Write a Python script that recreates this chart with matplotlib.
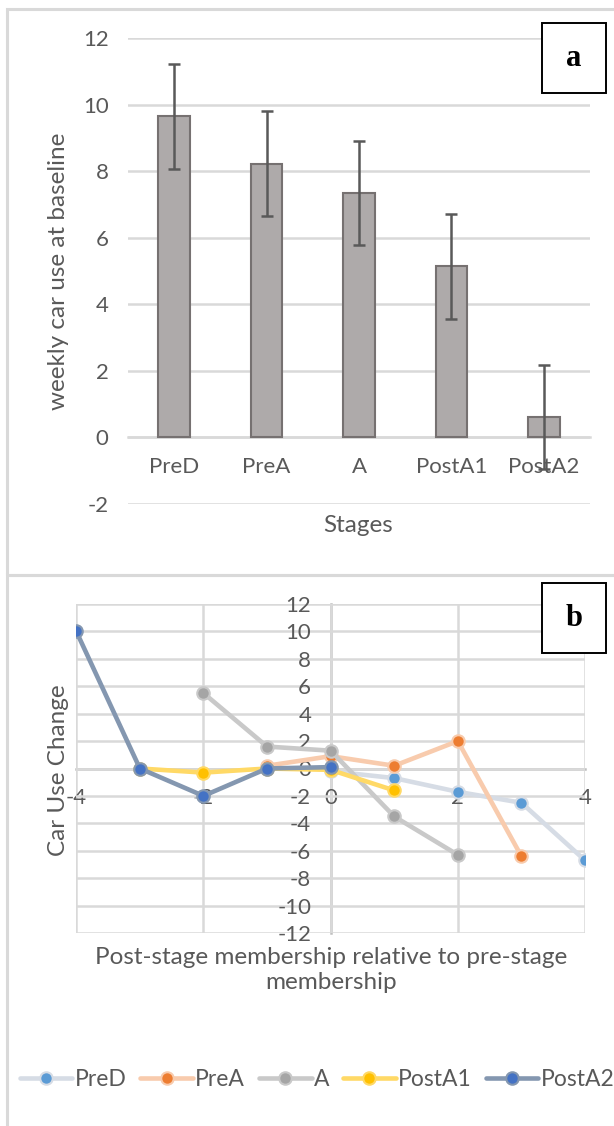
import numpy as np
import matplotlib.pyplot as plt
from matplotlib.lines import Line2D
from matplotlib.patches import Rectangle

plt.rcParams['font.family'] = ['Lato', 'DejaVu Sans']
plt.rcParams['axes.unicode_minus'] = False

# dados do painel a
stages = ['PreD', 'PreA', 'A', 'PostA1', 'PostA2']
car_use = [9.66, 8.23, 7.35, 5.15, 0.61]
car_err = [1.58, 1.58, 1.57, 1.58, 1.57]

# dados do painel b
rel_x = [-4, -3, -2, -1, 0, 1, 2, 3, 4]
change_pred = [np.nan, np.nan, np.nan, np.nan, -0.2, -0.7, -1.7, -2.5, -6.7]
change_prea = [np.nan, np.nan, np.nan, 0.2, 0.9, 0.2, 2.0, -6.4, np.nan]
change_a = [np.nan, np.nan, 5.5, 1.6, 1.3, -3.5, -6.3, np.nan, np.nan]
change_posta1 = [np.nan, 0.0, -0.3, 0.0, -0.1, -1.6, np.nan, np.nan, np.nan]
change_posta2 = [10.0, 0.0, -2.0, 0.0, 0.1, np.nan, np.nan, np.nan, np.nan]

W, H = 614, 1126
fig = plt.figure(figsize=(W / 100, H / 100), dpi=100)
txt = '#595959'
grid = '#D9D9D9'
tick_fs = 16
title_fs = 17.5

# molduras dos painéis
for y0, y1 in [(9, 575), (575, H + 5)]:
    fig.add_artist(Rectangle((7 / W, 1 - y1 / H), 1, (y1 - y0) / H,
                             transform=fig.transFigure, fill=False,
                             edgecolor=grid, lw=2.2, clip_on=False))

# ---- painel a ----
ax1 = fig.add_axes([128 / W, 1 - 504 / H, 462 / W, (504 - 38.3) / H])
x = np.arange(len(stages))
ax1.bar(x, car_use, width=0.34, color='#AEAAAA', edgecolor='#767171', lw=1.5, zorder=3)
ax1.errorbar(x, car_use, yerr=car_err, fmt='none', ecolor='#595959',
             elinewidth=1.8, capsize=4.5, capthick=1.8, zorder=4)
ax1.set_xlim(-0.5, 4.5)
ax1.set_ylim(-2, 12)
ax1.set_yticks(range(-2, 13, 2))
ax1.set_xticks(x)
ax1.set_xticklabels(stages)
ax1.yaxis.grid(True, color=grid, lw=1.8, zorder=0)
for s in ['top', 'right', 'left']:
    ax1.spines[s].set_visible(False)
ax1.spines['bottom'].set_position(('data', 0))
ax1.spines['bottom'].set_color(grid)
ax1.spines['bottom'].set_linewidth(1.8)
ax1.tick_params(length=0, labelsize=tick_fs, labelcolor=txt)
ax1.tick_params(axis='y', pad=14)
ax1.tick_params(axis='x', pad=14)
fig.text(58.7 / W, 1 - 271 / H, 'weekly car use at baseline', rotation=90,
         ha='center', va='center', fontsize=title_fs, color=txt)
fig.text(358 / W, 1 - 526 / H, 'Stages', ha='center', va='center',
         fontsize=title_fs, color=txt)

# ---- painel b ----
ax2 = fig.add_axes([76.3 / W, 1 - 933 / H, (585 - 76.3) / W, (933 - 604) / H])
series = [
    ('PreD', change_pred, '#D6DCE5', '#5B9BD5'),
    ('PreA', change_prea, '#F8CBAD', '#ED7D31'),
    ('A', change_a, '#C9C9C9', '#A5A5A5'),
    ('PostA1', change_posta1, '#FFD966', '#FFC000'),
    ('PostA2', change_posta2, '#8497B0', '#4472C4'),
]
handles = []
for i, (name, vals, lc, mc) in enumerate(series):
    ax2.plot(rel_x, vals, color=lc, lw=3.3, marker='o', ms=9,
             mfc=mc, mec=lc, mew=1.5, zorder=5 + i, solid_capstyle='round')
    handles.append(Line2D([], [], color=lc, lw=3.3, marker='o', ms=9,
                          mfc=mc, mec=lc, mew=1.5, solid_capstyle='round'))
ax2.set_xlim(-4, 4)
ax2.set_ylim(-12, 12)
ax2.set_xticks(range(-4, 5, 2))
ax2.set_yticks(range(-12, 13, 2))
ax2.grid(True, color=grid, lw=1.8, zorder=0)
for s in ['top', 'right']:
    ax2.spines[s].set_visible(False)
ax2.spines['left'].set_position(('data', 0))
ax2.spines['bottom'].set_position(('data', 0))
for s in ['left', 'bottom']:
    ax2.spines[s].set_color('#BFBFBF')
    ax2.spines[s].set_linewidth(1.8)
    ax2.spines[s].set_zorder(1)
ax2.tick_params(length=0, labelsize=tick_fs, labelcolor=txt, pad=14)
fig.text(58.7 / W, 1 - 770 / H, 'Car Use Change', rotation=90,
         ha='center', va='center', fontsize=title_fs, color=txt)
fig.text(331 / W, 1 - 970 / H,
         'Post-stage membership relative to pre-stage\nmembership',
         ha='center', va='center', fontsize=title_fs, color=txt, linespacing=1.2)

fig.legend(handles, [s[0] for s in series], loc='center', ncol=5,
           bbox_to_anchor=(317 / W, 1 - 1080 / H), frameon=False,
           fontsize=16.5, labelcolor=txt, handlelength=2.3,
           handletextpad=0.1, columnspacing=0.6, borderaxespad=0)

# caixas de rótulo a / b
for lab, y0, y1 in [('a', 23, 93), ('b', 583, 653)]:
    fig.add_artist(Rectangle((542 / W, 1 - y1 / H), 64 / W, (y1 - y0) / H,
                             transform=fig.transFigure, facecolor='white',
                             edgecolor='black', lw=1.4, zorder=10))
    fig.text(574 / W, 1 - (y0 + y1) / 2 / H, lab, ha='center', va='center',
             fontsize=22, fontweight='bold', family='Liberation Serif', zorder=11)

fig.savefig('out.png', dpi=100, facecolor='white')
